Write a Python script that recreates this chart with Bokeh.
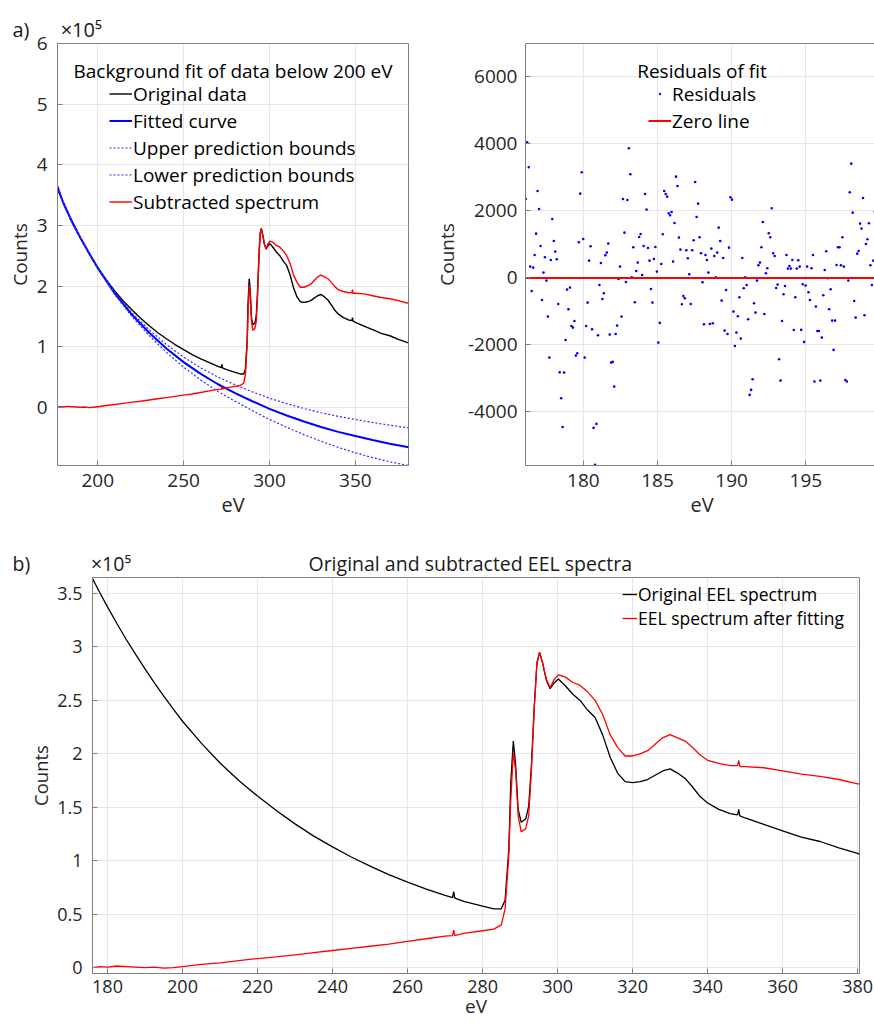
import numpy as np
import bokeh.layouts
import bokeh.models
import bokeh.plotting
from bokeh.embed import file_html
from bokeh.resources import INLINE

FONT = "Open Sans"
TEXT = "#262626"
AXIS = "#808080"
GRID = "#e6e6e6"
NB = "\u00a0"

# energy loss axis of the spectra (eV), counts given in units of 1e5
spec_ev = [176, 178, 180, 182.5, 185, 187.5, 190, 192.5, 195, 197.5, 200, 205, 210, 215,
           220, 225, 230, 235, 240, 245, 250, 255, 260, 265, 270, 272, 272.3, 272.6, 275,
           280, 283, 285, 286, 287, 287.5, 288.2, 288.8, 289.5, 290.3, 291.5, 292.3, 293,
           293.8, 294.5, 295.2, 296, 297, 298, 299, 300.2, 302, 304, 306, 308, 310, 312,
           314, 316, 318, 320, 322, 324, 326, 328, 330, 332, 334, 336, 338, 340, 343, 346,
           348, 348.3, 348.6, 350, 355, 360, 365, 370, 375, 380, 380.5]
original = [3.64, 3.505, 3.375, 3.22, 3.07, 2.93, 2.795, 2.665, 2.54, 2.42, 2.305, 2.10, 1.915,
            1.75, 1.605, 1.47, 1.345, 1.23, 1.13, 1.035, 0.95, 0.87, 0.80, 0.735, 0.675, 0.655,
            0.71, 0.65, 0.62, 0.575, 0.55, 0.55, 0.63, 1.11, 1.72, 2.12, 1.91, 1.48, 1.36, 1.39,
            1.51, 1.88, 2.46, 2.85, 2.95, 2.85, 2.69, 2.61, 2.66, 2.70, 2.64, 2.56, 2.50, 2.41,
            2.34, 2.18, 1.97, 1.82, 1.74, 1.73, 1.74, 1.76, 1.80, 1.84, 1.86, 1.82, 1.77, 1.69,
            1.60, 1.54, 1.48, 1.44, 1.43, 1.48, 1.42, 1.40, 1.34, 1.28, 1.22, 1.18, 1.12, 1.07,
            1.06]
subtracted = [0.0, 0.01, 0.005, 0.015, 0.01, 0.005, 0.0, 0.005, -0.005, 0.0, 0.01, 0.03, 0.045,
              0.065, 0.085, 0.10, 0.12, 0.14, 0.16, 0.18, 0.20, 0.22, 0.245, 0.27, 0.295, 0.30,
              0.35, 0.30, 0.32, 0.345, 0.36, 0.40, 0.55, 1.05, 1.55, 2.01, 1.85, 1.42, 1.27, 1.30,
              1.42, 1.82, 2.43, 2.85, 2.95, 2.85, 2.70, 2.62, 2.69, 2.74, 2.72, 2.67, 2.64, 2.58,
              2.50, 2.37, 2.18, 2.06, 1.98, 1.98, 2.00, 2.03, 2.09, 2.15, 2.18, 2.15, 2.12, 2.06,
              1.99, 1.94, 1.91, 1.89, 1.89, 1.94, 1.88, 1.88, 1.87, 1.84, 1.81, 1.79, 1.76, 1.72,
              1.72]

fit_ev = [176.6, 180, 185, 190, 195, 200, 210, 220, 230, 240, 250, 260, 270, 280, 290, 300,
          310, 320, 330, 340, 350, 360, 370, 381]
fitted = [3.64, 3.37, 3.06, 2.79, 2.54, 2.30, 1.875, 1.525, 1.23, 0.97, 0.745, 0.55, 0.38, 0.235,
          0.10, -0.025, -0.135, -0.235, -0.325, -0.405, -0.475, -0.54, -0.60, -0.66]
upper_bound = [3.64, 3.37, 3.061, 2.793, 2.545, 2.308, 1.893, 1.557, 1.278, 1.035, 0.828, 0.65,
               0.498, 0.371, 0.255, 0.15, 0.06, -0.02, -0.09, -0.15, -0.20, -0.25, -0.295, -0.34]
lower_bound = [3.64, 3.37, 3.059, 2.787, 2.535, 2.292, 1.857, 1.493, 1.182, 0.905, 0.662, 0.45,
               0.262, 0.099, -0.055, -0.20, -0.33, -0.45, -0.56, -0.66, -0.75, -0.83, -0.90, -0.96]

# residuals of the fit below 200 eV (counts), one per channel
residuals = [
    2358, 4050, 3303, 338, -388, 308, 687, 1323, 2597, 2060, 955, -657, 159, 617, -80, -1154,
    -2378, 537, 1761, 1104, 786, 557, -776, -2816, -3592, -4450, -2826, -1851, -348, -935, -289,
    -1433, -1483, -1284, -2318, -2249, 1065, 2517, 3154, 1164, -2378, -1433, -736, 517, 945,
    -1532, -4478, -5580, -4358, -1711, -209, 448, -627, -458, 677, 756, 1025, -1692, -2527,
    -2507, -3244,
    -1672, -1423, -30, 338, -1154, 2358, 1353, -119, 2328, 3871, 3094, 20, 915, -726, 209, 458,
    1224, 1313, 90, 955, 2507, 2040, 896, 517, -328, -736, 567, 925, 189, -1930, -1343, 418,
    1303, 2597, 2507, 2428, 1930, 1871, 1970, 488, 1642, 3025, 2746, 1204, 846, -786, -537,
    -607, 826, 587, 109, -776, 826, 1124, 2866, 1821, 2219, 1214, 736,
    -129, -1383, 687, 537, 159, -1373, 876, -1353, 657, 20, 756, 1502, 1104, -677, 597, -1572,
    -358, -1672, 905, 2408, 2338, -1005, -2030, -1632, -1144, -577, -1811, 597, -308, 20, -209,
    -1234, -3492, -3343, -3025, -756, -1035, -80, 378, 458, 915, 1672, -1075, 139, 289, 1333,
    1214, 2080, 736, 657, -299, -199, -2428, -3065, -1284, -488, -239, 687, 279, 358,
    279, 537, -1552, -577, 279, 527, 338, -1552, -189, -1910, -229, 338, -428, -657, 289, 687,
    -3094, -856, -1582, -1582, -3065, -1781, -517, 239, 796, -10, -935, -338, -1274, -2149,
    -1274, 388, 915, 915, 378, 1214, 338, -3045, -3094, -80, 2557, 3413, 1950, -687, -1184,
    726, 806, 1622, 1473, 2388, -1114, 1015, 1154, 1632, 378, -209, 517, 1980, 965, -229,
]
resid_ev = np.linspace(176.12, 199.85, len(residuals))
zero_level = [0, 0]

a_xticks = [200, 250, 300, 350]
a_yticks = [0, 1, 2, 3, 4, 5, 6]
r_xticks = [180, 185, 190, 195]
r_yticks = [-4000, -2000, 0, 2000, 4000, 6000]
b_xticks = [180, 200, 220, 240, 260, 280, 300, 320, 340, 360, 380]
b_yticks = [0, 0.5, 1, 1.5, 2, 2.5, 3, 3.5]


def make_figure(fw, fh, borders, x_range, y_range):
    left, right, top, bottom = borders
    p = bokeh.plotting.figure(
        frame_width=fw, frame_height=fh,
        min_border_left=left, min_border_right=right,
        min_border_top=top, min_border_bottom=bottom,
        x_range=x_range, y_range=y_range,
        output_backend="svg", toolbar_location=None,
    )
    p.outline_line_color = AXIS
    p.background_fill_color = "white"
    p.border_fill_color = "white"
    p.grid.grid_line_color = GRID
    return p


def style_axis(ax, ticks, size, standoff, label=None, label_size=None, label_standoff=1):
    ax.ticker = bokeh.models.FixedTicker(ticks=ticks)
    ax.major_label_overrides = {t: "%g" % t for t in ticks}
    ax.major_label_text_font = FONT
    ax.major_label_text_font_size = size
    ax.major_label_text_color = TEXT
    ax.major_label_standoff = standoff
    ax.axis_line_color = AXIS
    ax.major_tick_line_color = AXIS
    ax.major_tick_in = 5
    ax.major_tick_out = 0
    ax.minor_tick_line_color = None
    if label is not None:
        ax.axis_label = label
        ax.axis_label_text_font = FONT
        ax.axis_label_text_font_size = label_size
        ax.axis_label_text_font_style = "normal"
        ax.axis_label_text_color = TEXT
        ax.axis_label_standoff = label_standoff


def set_title(p, text, size, offset):
    # panel tag, the x10^5 multiplier and the heading share the line above the frame
    p.title.text = text
    p.title.align = "left"
    p.title.offset = offset
    p.title.standoff = 2
    p.title.vertical_align = "bottom"
    p.title.text_font = FONT
    p.title.text_font_size = size
    p.title.text_font_style = "normal"
    p.title.text_color = "#1a1a1a"


def add_text(p, x, y, text, size):
    p.add_layout(bokeh.models.Label(
        x=x, y=y, x_units="screen", y_units="screen", text=text,
        text_font=FONT, text_font_size=size, text_color="#000000",
        text_align="center", text_baseline="alphabetic"))


def add_legend(p, items, loc, glyph_w, item_h, size):
    legend = bokeh.models.Legend(
        items=[bokeh.models.LegendItem(label=lab, renderers=[r]) for lab, r in items],
        location=loc, padding=0, margin=0, spacing=0,
        glyph_width=glyph_w, glyph_height=item_h, label_height=item_h, label_standoff=1,
        label_text_font=FONT, label_text_font_size=size, label_text_color="#000000",
        background_fill_alpha=0, border_line_alpha=0,
    )
    p.add_layout(legend)


# ---- a) background fit ----
FW_A, FH_A = 351, 422
pa = make_figure(FW_A, FH_A, (57, 22, 43, 66),
                 bokeh.models.Range1d(176.6, 380.9), bokeh.models.Range1d(-0.96, 6.0))
style_axis(pa.xaxis[0], a_xticks, "19px", 8, "eV", "20px", 1)
style_axis(pa.yaxis[0], a_yticks, "19px", 10, "Counts", "19px", 1)

r_orig = pa.line(spec_ev, original, line_color="black", line_width=1.4)
r_fit = pa.line(fit_ev, fitted, line_color="#0000ff", line_width=2)
r_up = pa.line(fit_ev, upper_bound, line_color="#2a2aff", line_width=1.2, line_dash="2 2")
r_lo = pa.line(fit_ev, lower_bound, line_color="#2a2aff", line_width=1.2, line_dash="2 2")
r_sub = pa.line(spec_ev, subtracted, line_color="#ff0000", line_width=1.4)

add_text(pa, FW_A / 2, FH_A - 27, "Background fit of data below 200 eV", "19px")
add_legend(pa, [("Original data", r_orig), ("Fitted curve", r_fit),
                ("Upper prediction bounds", r_up), ("Lower prediction bounds", r_lo),
                ("Subtracted spectrum", r_sub)], (52, 250), 23, 27, "19px")
set_title(pa, "a)" + NB * 6 + "×10⁵", "20px", -45)

# ---- residuals ----
FW_R = 353
pr = make_figure(FW_R, FH_A, (90, 1, 43, 66),
                 bokeh.models.Range1d(176.1, 199.9), bokeh.models.Range1d(-5600, 7000))
style_axis(pr.xaxis[0], r_xticks, "19px", 8, "eV", "20px", 1)
style_axis(pr.yaxis[0], r_yticks, "19px", 8, "Counts", "19px", 5)

res_src = bokeh.models.ColumnDataSource(data=dict(ev=resid_ev, counts=residuals))
pr.scatter("ev", "counts", source=res_src, size=2.6, marker="circle",
           fill_color="#0000ff", line_color=None)
# small dot used as the legend glyph, drawn on the same points
r_res = pr.scatter("ev", "counts", source=res_src, marker="dot", size=3,
                   line_color="#0000ff", fill_color="#0000ff")
r_zero = pr.line([resid_ev[0] - 0.1, resid_ev[-1] + 0.1], zero_level, line_color="#ff0000", line_width=2)

add_text(pr, FW_R / 2, FH_A - 27, "Residuals of fit", "19px")
add_legend(pr, [("Residuals", r_res), ("Zero line", r_zero)], (123, 331), 23, 27, "19px")

# ---- b) original and subtracted ----
FW_B, FH_B = 767, 396
pb = make_figure(FW_B, FH_B, (92, 15, 46, 58),
                 bokeh.models.Range1d(176, 380.5), bokeh.models.Range1d(-0.055, 3.65))
style_axis(pb.xaxis[0], b_xticks, "18px", 6, "eV", "19px", -3)
style_axis(pb.yaxis[0], b_yticks, "18px", 10, "Counts", "18.5px", 1)

b_orig = pb.line(spec_ev, original, line_color="black", line_width=1.3)
b_sub = pb.line(spec_ev, subtracted, line_color="#ff0000", line_width=1.3)

add_legend(pb, [("Original EEL spectrum", b_orig), ("EEL spectrum after fitting", b_sub)],
           (530, FH_B - 9 - 44), 15, 22, "17.5px")
set_title(pb, "b)" + NB * 12 + "×10⁵" + NB * 35 + "Original and subtracted EEL spectra", "19.5px", -80)

p = bokeh.layouts.column(bokeh.layouts.row(pa, pr), pb)
open("out.html", "w").write(file_html(p, INLINE))
